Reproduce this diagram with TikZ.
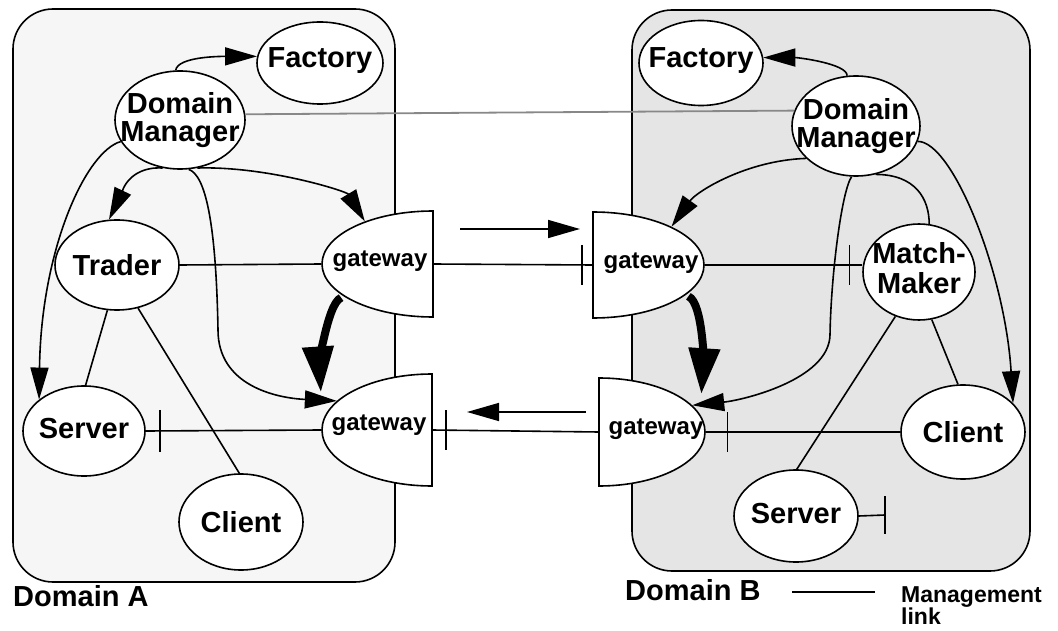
\documentclass[tikz,border=0pt]{standalone}
\usepackage{fontspec}
\setmainfont{Liberation Sans}
\usetikzlibrary{arrows.meta,shapes.geometric,calc}
\definecolor{boxA}{HTML}{F6F6F6}
\definecolor{boxB}{HTML}{E5E5E5}
\definecolor{mgray}{HTML}{888888}
\begin{document}
\begin{tikzpicture}[x=1pt,y=-1pt,
  lw/.style={line width=1.6pt},
  ent/.style={ellipse, draw, lw, fill=white, inner sep=0pt},
  enttext/.style={font=\fontsize{29}{28}\selectfont\bfseries, align=center, inner sep=0pt},
  gwbody/.style={ellipse, draw, lw, fill=white, inner sep=0pt},
  gwtext/.style={font=\fontsize{24}{25}\selectfont\bfseries, inner sep=0pt},
  arr/.style={lw, -{Triangle[length=32pt,width=18pt]}},
  bigarr/.style={line width=8pt, -{Triangle[length=46pt,width=30pt]}},
  domainbox/.style={draw, lw, rounded corners=40pt},
  lbl/.style={font=\fontsize{29}{30}\selectfont\bfseries, inner sep=0pt},
]
\useasboundingbox (0,0) rectangle (1058,631);

% domains
\draw[domainbox, fill=boxA] (13,9) rectangle (395,582);
\draw[domainbox, fill=boxB] (632,10) rectangle (1030,571);

% gateways
\begin{scope}
  \clip (290,190) rectangle (433,340);
  \node[gwbody, minimum width=222pt, minimum height=106pt] (gA1) at (433,264) {};
\end{scope}
\draw[lw] (gA1.north) -- (gA1.south);
\begin{scope}
  \clip (290,360) rectangle (432,500);
  \node[gwbody, minimum width=220pt, minimum height=112pt] (gA2) at (432,430) {};
\end{scope}
\draw[lw] (gA2.north) -- (gA2.south);
\begin{scope}
  \clip (593,190) rectangle (720,340);
  \node[gwbody, minimum width=222pt, minimum height=106pt] (gB1) at (593,265) {};
\end{scope}
\draw[lw] (gB1.north) -- (gB1.south);
\begin{scope}
  \clip (599,360) rectangle (720,500);
  \node[gwbody, minimum width=212pt, minimum height=108pt] (gB2) at (599,432) {};
\end{scope}
\draw[lw] (gB2.north) -- (gB2.south);
\node[gwtext] (gA1t) at (380,261) {gateway};
\node[gwtext] (gA2t) at (379,425) {gateway};
\node[gwtext] (gB1t) at (651,263) {gateway};
\node[gwtext] (gB2t) at (656,429) {gateway};

% entities
\node[ent, minimum width=126pt, minimum height=82pt] (facA) at (320,63) {};
\node[ent, minimum width=130pt, minimum height=98pt] (dmA) at (180,120) {};
\node[ent, minimum width=124pt, minimum height=90pt] (trader) at (117,265) {};
\node[ent, minimum width=122pt, minimum height=90pt] (serverA) at (84,431) {};
\node[ent, minimum width=124pt, minimum height=96pt] (clientA) at (241,522) {};
\node[ent, minimum width=124pt, minimum height=85pt] (facB) at (701,63) {};
\node[ent, minimum width=128pt, minimum height=100pt] (dmB) at (856,126) {};
\node[ent, minimum width=112pt, minimum height=96pt] (mm) at (919,272) {};
\node[ent, minimum width=124pt, minimum height=94pt] (clientB) at (963,432) {};
\node[ent, minimum width=124pt, minimum height=92pt] (serverB) at (796,516) {};

\node[enttext] (facAt) at ($(facA)+(0,-2)$) {Factory};
\node[enttext] (dmAt) at (dmA) {Domain\\Manager};
\node[enttext] (tradert) at (trader) {Trader};
\node[enttext] (serverAt) at ($(serverA)+(0,-2)$) {Server};
\node[enttext] (clientAt) at (clientA) {Client};
\node[enttext] (facBt) at ($(facB)+(0,-2)$) {Factory};
\node[enttext] (dmBt) at (dmB) {Domain\\Manager};
\node[enttext, font=\fontsize{29}{30}\selectfont\bfseries] (mmt) at ($(mm)+(0,-4)$) {Match-\\Maker};
\node[enttext] (clientBt) at (clientB) {Client};
\node[enttext] (serverBt) at ($(serverB)+(0,-2)$) {Server};

% management links
\draw[line width=1.8pt, draw=mgray] (dmA.5) -- (dmB.166);
\draw[lw] (trader.east) -- (gA1.west);
\draw[lw] (trader.258) -- (serverA.88);
\draw[lw] (trader.296) -- (clientA.92);
\draw[lw] (serverA.east) -- coordinate[pos=0.08] (tA) (gA2.west);
\draw[lw] ($(tA)+(0,-21)$) -- ($(tA)+(0,21)$);
\draw[lw] (gA1.center) -- coordinate[pos=0.93] (tB) (gB1.center);
\draw[lw] ($(tB)+(0,-20)$) -- ($(tB)+(0,20)$);
\draw[lw] (gA2.center) -- coordinate[pos=0.084] (tC) (gB2.center);
\draw[lw] ($(tC)+(0,-20)$) -- ($(tC)+(0,20)$);
\draw[lw] (gB1.east) -- coordinate[pos=0.92] (tD) (gB1.east -| mm.west);
\draw[lw] ($(tD)+(0,-20)$) -- ($(tD)+(0,20)$);
\draw[lw] (gB2.east) -- coordinate[pos=0.112] (tE) (clientB);
\draw[lw] ($(tE)+(0,-20)$) -- ($(tE)+(0,20)$);
\draw[lw] (mm.285) -- (clientB.96);
\draw[lw] (mm.242) -- (serverB.89);
\coordinate (sBtick) at (885,515);
\draw[lw] (serverB.east) -- (sBtick);
\draw[lw] ($(sBtick)+(0,-19)$) -- ($(sBtick)+(0,19)$);

% Domain A control arrows
\draw[arr] (dmA.95) .. controls +(2,-14) and +(-35,0) .. (facA.174);
\draw[arr] (dmA.250) .. controls +(-35,-2) and +(12,-25) .. (trader.100);
\draw[arr] (dmA.290) .. controls +(70,-2) and +(-18,-30) .. (gA1.148);
\draw[arr] (dmA.200) .. controls +(-35,10) and +(2,-150) .. (serverA.145);
\draw[arr] (dmA.280) .. controls (205,175) and (216,220) .. (218,330) .. controls (218,385) and (275,398) .. (gA2.163);
\draw[bigarr, shorten <=3pt, shorten >=28pt] (gA1.200) .. controls +(-18,8) and +(-3,-45) .. (gA2.175);

% Domain B control arrows
\draw[arr] (dmB.100) .. controls +(0,-12) and +(35,0) .. (facB.5);
\draw[arr] (dmB.213) .. controls +(-60,2) and +(25,-35) .. (gB1.26);
\draw[arr] (dmB.265) .. controls +(-10,15) and +(1,-60) .. (830,335) .. controls +(-1,45) and +(50,-5) .. (gB2.16);
\draw[lw] (dmB.292) .. controls +(40,0) and +(0,-25) .. (mm.78);
\draw[arr] (dmB.346) .. controls +(35,0) and +(-8,-130) .. (clientB.30);
\draw[bigarr, shorten <=3pt, shorten >=20pt] (gB1.342) .. controls +(18,8) and +(3,-45) .. (gB2.10);

% inter-gateway flow arrows
\coordinate (fwdS) at (460,229); \coordinate (fwdE) at (580,229);
\draw[arr] (fwdS) -- (fwdE);
\coordinate (bwdS) at (586,412); \coordinate (bwdE) at (467,412);
\draw[arr] (bwdS) -- (bwdE);

% labels and legend
\node[lbl, anchor=base west] (domAl) at (13,606) {Domain A};
\node[lbl, anchor=base west] (domBl) at (625,600) {Domain B};
\coordinate (legL) at (792,592); \coordinate (legR) at (875,592);
\draw[lw] (legL) -- (legR);
\node[font=\fontsize{23}{19}\selectfont\bfseries, align=left, anchor=north west, inner sep=0pt] (legT) at (901,586) {Management\\link};
\end{tikzpicture}
\end{document}
